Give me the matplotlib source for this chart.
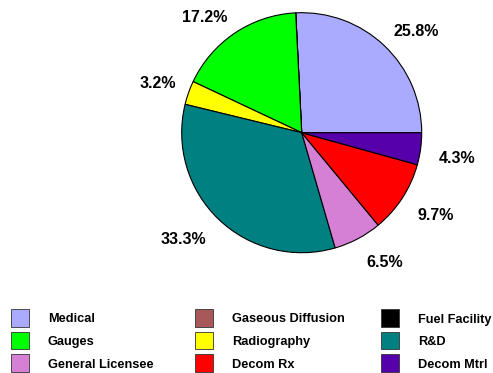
import numpy as np
import matplotlib
matplotlib.use("Agg")
import matplotlib.pyplot as plt
from matplotlib.patches import Rectangle

plt.rcParams["font.family"] = ["Liberation Sans", "DejaVu Sans"]
plt.rcParams["font.weight"] = "bold"

# Share of each licensee category (percent)
categories = ["Medical", "Gaseous Diffusion", "Fuel Facility",
              "Gauges", "Radiography", "R&D",
              "General Licensee", "Decom Rx", "Decom Mtrl"]
shares = [25.8, 0.0, 0.0, 17.2, 3.2, 33.3, 6.5, 9.7, 4.3]
colors = ["#AAAAFF", "#A85858", "#000000",
          "#00FF00", "#FFFF00", "#008080",
          "#D580D5", "#FF0000", "#5500AA"]

W, H = 493, 373
fig = plt.figure(figsize=(W / 100, H / 100), dpi=100)

# Pie axes: centre and radius in pixels
cx, cy, r = 301.7, 132.7, 120.0
ax = fig.add_axes([(cx - r) / W, (H - cy - r) / H, 2 * r / W, 2 * r / H])

wedges, _ = ax.pie(shares, colors=colors, startangle=0, counterclock=True,
                   radius=1.0,
                   wedgeprops=dict(edgecolor="black", linewidth=0.8))
ax.set_xlim(-1, 1)
ax.set_ylim(-1, 1)
ax.set_aspect("equal")
ax.axis("off")

# Percentage labels: nearest corner of each label sits just outside the rim
for w, v in zip(wedges, shares):
    if v <= 0:
        continue
    mid = np.deg2rad((w.theta1 + w.theta2) / 2)
    c, s = np.cos(mid), np.sin(mid)
    d = 1.11 if s > 0 else 1.15
    ha = "left" if c > 0.05 else ("right" if c < -0.05 else "center")
    va = "baseline" if s > 0 else "top"
    ax.text(d * c, d * s, f"{v:.1f}%", ha=ha, va=va,
            fontsize=11.5, fontweight="bold", color="black")

# Legend: 3 columns filled row by row, drawn in pixel coordinates
lax = fig.add_axes([0, 0, 1, 1])
lax.set_xlim(0, W)
lax.set_ylim(H, 0)
lax.axis("off")
ncol = 3
col_x = [11, 195, 381]
row_y = [309.3, 331.8, 354.3]
sw_w, sw_h = 18, 17.4
for i, (name, col) in enumerate(zip(categories, colors)):
    row, cidx = divmod(i, ncol)
    x0, y0 = col_x[cidx], row_y[row]
    lax.add_patch(Rectangle((x0, y0), sw_w, sw_h, facecolor=col,
                            edgecolor="#333333", linewidth=0.6))
    lax.text(x0 + 37, y0 + sw_h / 2, name, ha="left", va="center_baseline",
             fontsize=9.2, fontweight="bold", color="black")

fig.savefig("out.png", dpi=100)
